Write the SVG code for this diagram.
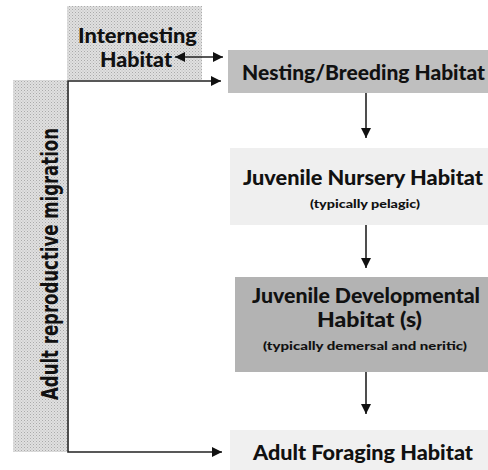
<svg xmlns="http://www.w3.org/2000/svg" width="488" height="470" viewBox="0 0 488 470">
<defs>
<pattern id="stip" width="3" height="3" patternUnits="userSpaceOnUse">
<rect width="3" height="3" fill="#e0e0e0"/>
<rect x="0" y="0" width="1" height="1" fill="#aaaaaa"/>
<rect x="1.5" y="1.5" width="1" height="1" fill="#bbbbbb"/>
</pattern>
<marker id="ah" markerWidth="10" markerHeight="10" refX="10" refY="5" orient="auto-start-reverse" markerUnits="userSpaceOnUse">
<path d="M0,0 L10,5 L0,10 Z" fill="#111"/>
</marker>
</defs>
<style>
.t{font-family:Lato,"Open Sans","DejaVu Sans",sans-serif;font-weight:900;fill:#111;text-anchor:middle}
.s{font-family:Lato,"Open Sans","DejaVu Sans",sans-serif;font-weight:900;fill:#111;text-anchor:middle;font-size:11px}
.c{stroke:#222;stroke-width:1.6;fill:none}
</style>
<g id="internesting">
<rect x="67" y="6" width="135" height="74" fill="url(#stip)"/>
<text class="t" x="137.5" y="43" font-size="21" textLength="119" lengthAdjust="spacingAndGlyphs">Internesting</text>
<text class="t" x="136" y="67" font-size="21" textLength="72" lengthAdjust="spacingAndGlyphs">Habitat</text>
</g>
<g id="migration">
<rect x="13" y="80" width="54" height="372" fill="url(#stip)"/>
<text x="0" y="0" transform="translate(58,264) rotate(-90)" font-family="'DejaVu Sans Condensed','DejaVu Sans',sans-serif" font-weight="bold" font-size="23" fill="#111" text-anchor="middle" textLength="272" lengthAdjust="spacingAndGlyphs">Adult reproductive migration</text>
</g>
<g id="nesting">
<rect x="228" y="50" width="260" height="43" fill="#bfbfbf"/>
<text class="t" x="363.5" y="80" font-size="20" textLength="243" lengthAdjust="spacingAndGlyphs">Nesting/Breeding Habitat</text>
</g>
<g id="nursery">
<rect x="230" y="148" width="258" height="77" fill="#efefef"/>
<text class="t" x="363" y="185" font-size="20" textLength="240" lengthAdjust="spacingAndGlyphs">Juvenile Nursery Habitat</text>
<text class="s" x="365" y="208" textLength="110" lengthAdjust="spacingAndGlyphs">(typically pelagic)</text>
</g>
<g id="developmental">
<rect x="235" y="277" width="253" height="95" fill="#b3b3b3"/>
<text class="t" x="366" y="303" font-size="20" textLength="228" lengthAdjust="spacingAndGlyphs">Juvenile Developmental</text>
<text class="t" x="369.5" y="327" font-size="20" textLength="105" lengthAdjust="spacingAndGlyphs">Habitat (s)</text>
<text class="s" x="365" y="350" textLength="204" lengthAdjust="spacingAndGlyphs">(typically demersal and neritic)</text>
</g>
<g id="foraging">
<rect x="230" y="430" width="258" height="40" fill="#f0f0f0"/>
<text class="t" x="363" y="460" font-size="20" textLength="220" lengthAdjust="spacingAndGlyphs">Adult Foraging Habitat</text>
</g>
<g id="connectors">
<path class="c" d="M175,57 H223" marker-start="url(#ah)" marker-end="url(#ah)"/>
<path class="c" d="M221,81 H68 V452 H222" marker-start="url(#ah)" marker-end="url(#ah)"/>
<path class="c" d="M366,93 V138" marker-end="url(#ah)"/>
<path class="c" d="M366,225 V268" marker-end="url(#ah)"/>
<path class="c" d="M366,372 V414" marker-end="url(#ah)"/>
</g>
</svg>
